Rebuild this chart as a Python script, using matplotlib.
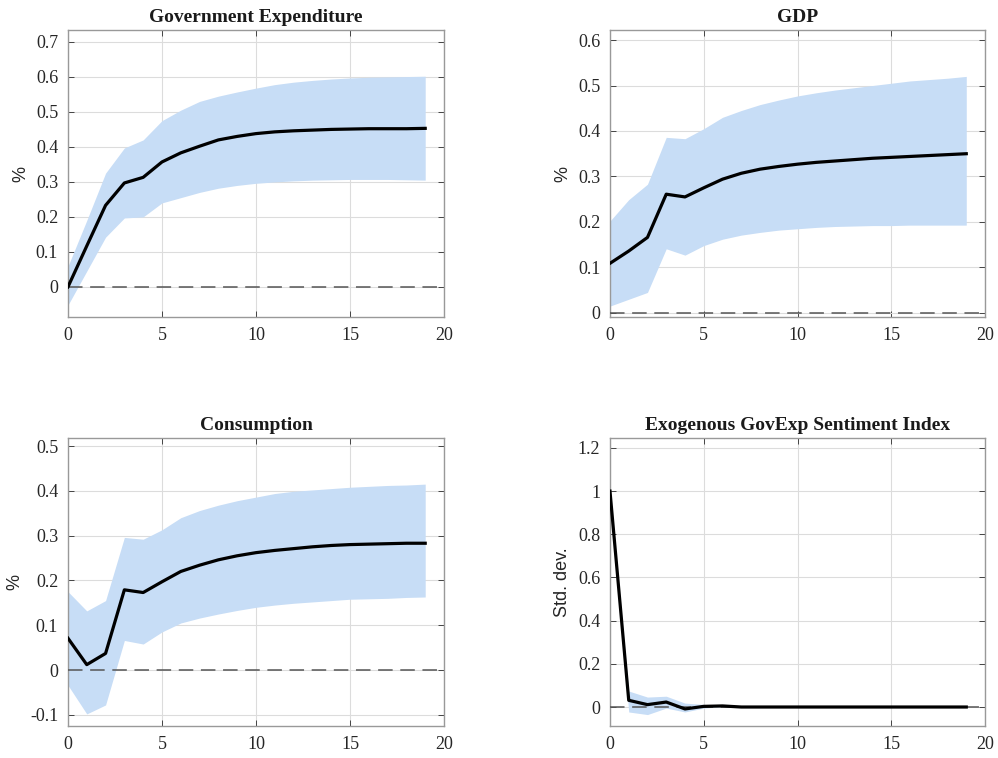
import numpy as np
import matplotlib
matplotlib.use("Agg")
from matplotlib import pyplot as plt

horizon = np.arange(20)

gov_med = [0.0, 0.117, 0.233, 0.297, 0.313, 0.357, 0.383, 0.402, 0.420, 0.430,
           0.438, 0.443, 0.446, 0.448, 0.450, 0.451, 0.452, 0.452, 0.452, 0.453]
gov_hi = [0.059, 0.19, 0.325, 0.397, 0.42, 0.475, 0.505, 0.53, 0.545, 0.557,
          0.568, 0.578, 0.585, 0.59, 0.594, 0.597, 0.599, 0.6, 0.601, 0.602]
gov_lo = [-0.052, 0.045, 0.142, 0.197, 0.2, 0.24, 0.255, 0.27, 0.282, 0.29,
          0.296, 0.3, 0.303, 0.305, 0.306, 0.307, 0.307, 0.307, 0.306, 0.305]

gdp_med = [0.109, 0.136, 0.166, 0.261, 0.255, 0.275, 0.294, 0.307, 0.316, 0.322,
           0.327, 0.331, 0.334, 0.337, 0.34, 0.342, 0.344, 0.346, 0.348, 0.35]
gdp_hi = [0.202, 0.249, 0.283, 0.386, 0.383, 0.405, 0.43, 0.445, 0.458, 0.468,
          0.477, 0.484, 0.49, 0.495, 0.5, 0.505, 0.51, 0.513, 0.516, 0.52]
gdp_lo = [0.015, 0.03, 0.045, 0.141, 0.127, 0.148, 0.162, 0.171, 0.177, 0.182,
          0.185, 0.188, 0.19, 0.191, 0.192, 0.192, 0.193, 0.193, 0.193, 0.193]

cons_med = [0.071, 0.012, 0.037, 0.179, 0.173, 0.197, 0.22, 0.234, 0.246, 0.255,
            0.262, 0.267, 0.271, 0.275, 0.278, 0.28, 0.281, 0.282, 0.283, 0.283]
cons_hi = [0.175, 0.132, 0.155, 0.296, 0.292, 0.313, 0.34, 0.356, 0.368, 0.378,
           0.386, 0.394, 0.399, 0.402, 0.405, 0.408, 0.41, 0.412, 0.413, 0.415]
cons_lo = [-0.034, -0.098, -0.078, 0.066, 0.058, 0.085, 0.105, 0.116, 0.125, 0.133,
           0.14, 0.145, 0.149, 0.152, 0.155, 0.158, 0.159, 0.16, 0.162, 0.163]

sent_med = [1.0, 0.031, 0.011, 0.023, -0.009, 0.003, 0.005, 0.0, 0.0, 0.0,
            0.0, 0.0, 0.0, 0.0, 0.0, 0.0, 0.0, 0.0, 0.0, 0.0]
sent_hi = [1.0, 0.074, 0.046, 0.05, 0.018, 0.012, 0.006, 0.001, 0.0, 0.0,
           0.0, 0.0, 0.0, 0.0, 0.0, 0.0, 0.0, 0.0, 0.0, 0.0]
sent_lo = [1.0, -0.023, -0.035, -0.005, -0.023, -0.005, 0.002, -0.001, 0.0, 0.0,
           0.0, 0.0, 0.0, 0.0, 0.0, 0.0, 0.0, 0.0, 0.0, 0.0]

titles = ["Government Expenditure", "GDP", "Consumption",
          "Exogenous GovExp Sentiment Index"]
ylabels = ["%", "%", "%", "Std. dev."]
xticks = [0, 5, 10, 15, 20]

panels = [
    (gov_med, gov_lo, gov_hi, (-0.086, 0.734), np.arange(0, 0.71, 0.1)),
    (gdp_med, gdp_lo, gdp_hi, (-0.009, 0.622), np.arange(0, 0.61, 0.1)),
    (cons_med, cons_lo, cons_hi, (-0.125, 0.518), np.arange(-0.1, 0.51, 0.1)),
    (sent_med, sent_lo, sent_hi, (-0.088, 1.246), np.arange(0, 1.21, 0.2)),
]

# axes boxes in figure fractions (left, bottom, width, height)
boxes = [
    (0.0681, 0.5818, 0.3768, 0.3786),
    (0.6112, 0.5818, 0.3758, 0.3786),
    (0.0681, 0.0422, 0.3768, 0.3800),
    (0.6112, 0.0422, 0.3758, 0.3800),
]

band_color = "#c7ddf6"
serif = ["Liberation Serif", "DejaVu Serif"]
sans = ["Liberation Sans", "DejaVu Sans"]


def fmt_tick(v):
    if abs(v) < 1e-9:
        return "0"
    if abs(v - round(v)) < 1e-9:
        return "%d" % round(v)
    return "%.1f" % v


fig = plt.figure(figsize=(9.98, 7.58), dpi=100)

for i, (med, lo, hi, ylim, yt) in enumerate(panels):
    ax = fig.add_axes(boxes[i])
    ax.fill_between(horizon, lo, hi, color=band_color, linewidth=0, zorder=2)
    ax.axhline(0, color="#555555", linewidth=1.1, dashes=(9.5, 5), zorder=3)
    ax.plot(horizon, med, color="black", linewidth=2.3, zorder=4)
    ax.set_xlim(0, 20)
    ax.set_ylim(*ylim)
    ax.set_xticks(xticks)
    ax.set_yticks(yt)
    ax.set_xticklabels([fmt_tick(v) for v in xticks],
                       family=serif, fontsize=13, color="#262626")
    ax.set_yticklabels([fmt_tick(v) for v in yt],
                       family=serif, fontsize=13, color="#262626")
    ax.grid(True, color="#dcdcdc", linewidth=0.8, zorder=0)
    ax.set_axisbelow(True)
    ax.tick_params(direction="in", length=4, width=0.7, color="#444444",
                   top=True, right=True)
    ax.tick_params(axis="y", pad=7)
    ax.tick_params(axis="x", pad=7)
    for s in ax.spines.values():
        s.set_color("#999999")
        s.set_linewidth(1.0)
    ax.set_title(titles[i], family=serif, fontsize=14, fontweight="bold",
                 color="#1a1a1a", pad=6)
    ax.set_ylabel(ylabels[i], family=sans, fontsize=13, color="#262626",
                  labelpad=5)

fig.savefig("out.png", dpi=100)
